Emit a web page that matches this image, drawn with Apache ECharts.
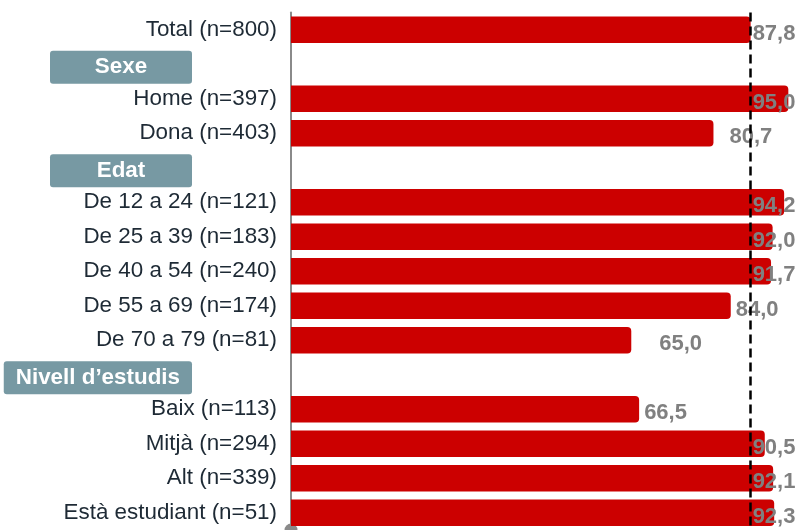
<!DOCTYPE html>
<html>
<head>
<meta charset="utf-8">
<script src="https://cdn.jsdelivr.net/npm/echarts@6/dist/echarts.min.js"></script>
<style>
html,body{margin:0;padding:0;background:#fff;}
#chart{width:801px;height:530px;}
</style>
</head>
<body>
<div id="chart"></div>
<script>
// ---- data ----
const categories = ['Total (n=800)', 'Sexe', 'Home (n=397)', 'Dona (n=403)', 'Edat',
  'De 12 a 24 (n=121)', 'De 25 a 39 (n=183)', 'De 40 a 54 (n=240)', 'De 55 a 69 (n=174)', 'De 70 a 79 (n=81)',
  'Nivell d’estudis', 'Baix (n=113)', 'Mitjà (n=294)', 'Alt (n=339)', 'Està estudiant (n=51)'];
const values = [87.8, null, 95.0, 80.7, null, 94.2, 92.0, 91.7, 84.0, 65.0, null, 66.5, 90.5, 92.1, 92.3];
const headers = ['Sexe', 'Edat', 'Nivell d’estudis'];
const referenceValue = 87.8;

// ---- layout ----
const xMax = 97;
const gridLeft = 291, gridTop = 12.5, gridHeight = 519;
const scale = 5.235;
const gridWidth = xMax * scale;
const labelNudge = {3: 11, 9: 23};
const refPx = referenceValue * scale;
const FONT = '"Liberation Sans", Arial, sans-serif';

const fmt = v => v.toFixed(1).replace('.', ',');

const barData = values.map((v, i) => {
  if (v === null) return '-';
  const barPx = v * scale;
  const off = Math.min(barPx + 5, refPx + 2) + (labelNudge[i] || 0);
  return { value: v, label: { position: [off, '50%'] } };
});

const hdrBase = { backgroundColor: '#7799a3', color: '#fff', fontWeight: 'bold', fontSize: 22.4,
  fontFamily: FONT, height: 33, lineHeight: 33, align: 'center', borderRadius: 3, verticalAlign: 'bottom' };

const chart = echarts.init(document.getElementById('chart'), null, {renderer: 'canvas'});
chart.setOption({
  animation: false,
  grid: { left: gridLeft, top: gridTop, width: gridWidth, height: gridHeight, containLabel: false },
  xAxis: { type: 'value', min: 0, max: xMax, show: false },
  yAxis: {
    type: 'category', inverse: true, data: categories,
    axisTick: { show: false },
    axisLine: { show: true, lineStyle: { color: '#8a8a8a', width: 2 }, symbol: ['circle', 'none'], symbolSize: [13, 13] },
    axisLabel: {
      margin: 14, fontSize: 22.4, color: '#1e2a35', fontFamily: FONT,
      formatter: function (v) {
        if (headers.indexOf(v) >= 0) {
          const st = v.length > 6 ? 'hN' : 'hS';
          return '{' + st + '|' + v + '}{sp|}';
        }
        return v;
      },
      rich: {
        hS: Object.assign({}, hdrBase, { width: 142 }),
        hN: Object.assign({}, hdrBase, { padding: [0, 12] }),
        sp: { width: 85, height: 39, lineHeight: 39 }
      }
    },
    splitLine: { show: false }
  },
  series: [{
    type: 'bar',
    data: barData,
    barCategoryGap: '23%',
    itemStyle: { color: '#cc0000', borderRadius: [0, 4, 4, 0] },
    label: {
      show: true, align: 'left', verticalAlign: 'middle', offset: [0, 4],
      formatter: p => fmt(p.value),
      fontSize: 22, fontWeight: 'bold', color: '#808080', fontFamily: FONT
    },
    markLine: {
      silent: true, symbol: 'none',
      label: { show: false },
      lineStyle: { color: '#000', type: [9, 5], width: 2.5 },
      data: [{ xAxis: referenceValue }]
    },
    z: 2
  }]
});
</script>
</body>
</html>
